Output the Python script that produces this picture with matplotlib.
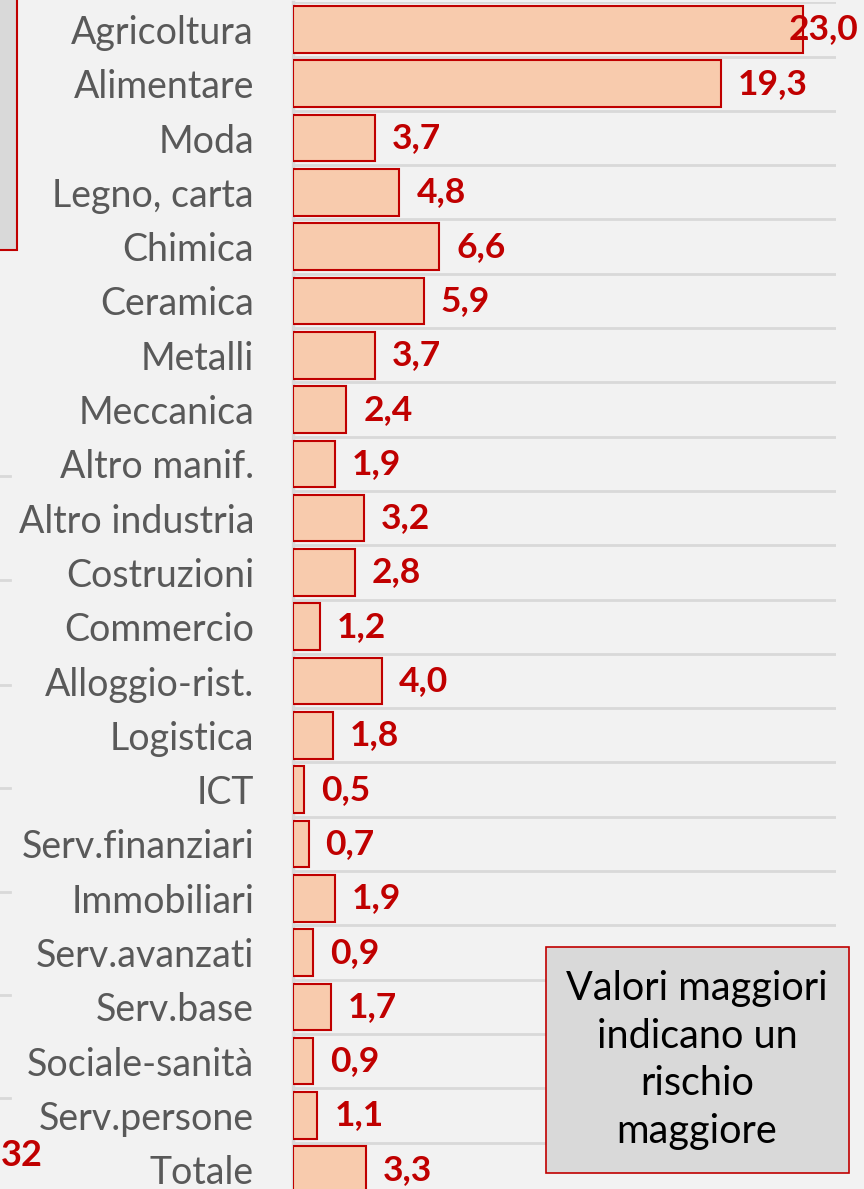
import matplotlib.pyplot as plt
from matplotlib.patches import Rectangle
import numpy as np

plt.rcParams['font.family'] = ['Lato', 'DejaVu Sans']

settori = ['Agricoltura', 'Alimentare', 'Moda', 'Legno, carta', 'Chimica',
           'Ceramica', 'Metalli', 'Meccanica', 'Altro manif.', 'Altro industria',
           'Costruzioni', 'Commercio', 'Alloggio-rist.', 'Logistica', 'ICT',
           'Serv.finanziari', 'Immobiliari', 'Serv.avanzati', 'Serv.base',
           'Sociale-sanità', 'Serv.persone', 'Totale']
valori = [23.0, 19.3, 3.7, 4.8, 6.6, 5.9, 3.7, 2.4, 1.9, 3.2, 2.8, 1.2,
          4.0, 1.8, 0.5, 0.7, 1.9, 0.9, 1.7, 0.9, 1.1, 3.3]
nota = 'Valori maggiori\nindicano un\nrischio\nmaggiore'

rosso = '#C00000'
sfondo = '#F2F2F2'
griglia = '#D9D9D9'

W, H = 864, 1189
fig = plt.figure(figsize=(W / 100, H / 100), dpi=100, facecolor=sfondo)

# area del grafico (si estende oltre il bordo inferiore, come nel ritaglio)
top = 2.3
row = 54.3
bottom = top + row * len(settori)
ax = fig.add_axes([293 / W, 1 - bottom / H, (836 - 293) / W, (bottom - top) / H])
ax.set_facecolor(sfondo)

y = np.arange(len(settori))
ax.barh(y, valori, height=0.86, color='#F8CBAD', edgecolor=rosso, linewidth=1.5, zorder=3)

ax.set_xlim(0, 24.5)
ax.set_ylim(len(settori) - 0.5, -0.5)
ax.set_xticks([])
ax.set_yticks(y)
ax.set_yticklabels(settori, fontsize=27, color='#595959')
ax.tick_params(axis='y', length=0, pad=28)
ax.set_yticks(np.arange(len(settori) + 1) - 0.5, minor=True)
ax.tick_params(axis='y', which='minor', length=0)
ax.grid(axis='y', which='minor', color=griglia, linewidth=2, zorder=0)

for s in ['top', 'right', 'bottom']:
    ax.spines[s].set_visible(False)
ax.spines['left'].set_color(griglia)
ax.spines['left'].set_linewidth(2.5)

# etichette dei valori
limite = 25.5
for i, v in enumerate(valori):
    txt = f'{v:.1f}'.replace('.', ',')
    if v + 0.77 + 3 > limite:
        ax.text(limite, i, txt, ha='right', va='center', fontsize=25.5,
                fontweight='bold', color=rosso, zorder=4, clip_on=False)
    else:
        ax.text(v + 0.77, i, txt, ha='left', va='center', fontsize=25.5,
                fontweight='bold', color=rosso, zorder=4, clip_on=False)

# riquadro di nota
fig.patches.append(Rectangle((546 / W, 1 - 1173 / H), (849 - 546) / W, (1173 - 947) / H,
                             transform=fig.transFigure, facecolor=griglia,
                             edgecolor=rosso, linewidth=1.2, zorder=5))
fig.text(697 / W, 1 - 1060 / H, nota, ha='center', va='center', fontsize=28.5,
         color='black', linespacing=1.36, zorder=6)

# frammenti del grafico adiacente a sinistra
fig.patches.append(Rectangle((-20 / W, 1 - 250 / H), 37 / W, 270 / H,
                             transform=fig.transFigure, facecolor=griglia,
                             edgecolor=rosso, linewidth=1.5, zorder=5))
for yy in [476, 580, 685, 788, 892, 995, 1098]:
    fig.add_artist(plt.Line2D([0, 10 / W], [1 - yy / H, 1 - yy / H],
                              transform=fig.transFigure, color=griglia, linewidth=2))
fig.text(1 / W, 1 - 1155 / H, '32', ha='left', va='center', fontsize=26,
         fontweight='bold', color=rosso)

fig.savefig('out.png', dpi=100, facecolor=sfondo)
